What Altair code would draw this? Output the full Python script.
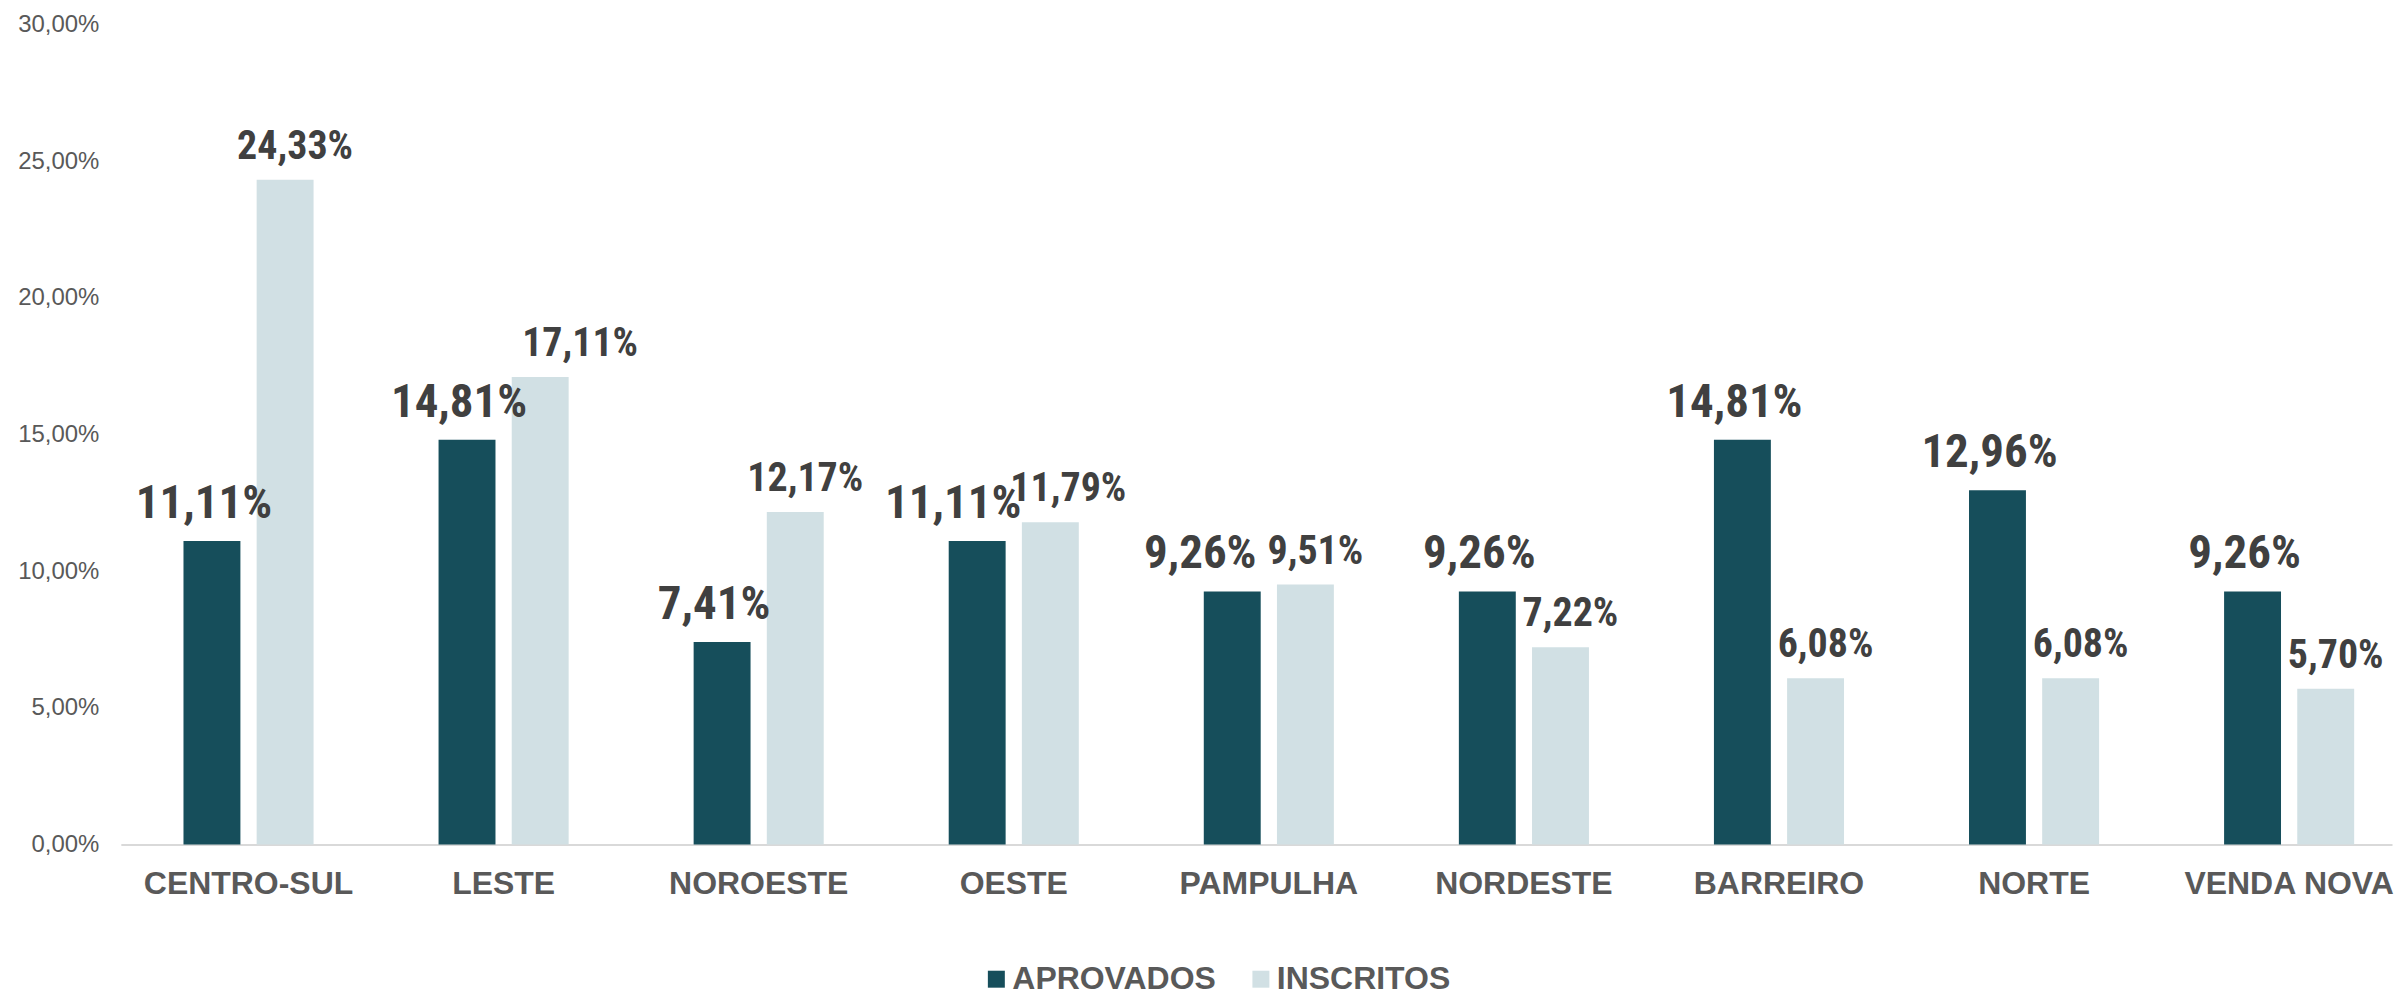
import altair as alt
import pandas as pd

regioes = ["CENTRO-SUL", "LESTE", "NOROESTE", "OESTE", "PAMPULHA",
           "NORDESTE", "BARREIRO", "NORTE", "VENDA NOVA"]
aprovados = [11.11, 14.81, 7.41, 11.11, 9.26, 9.26, 14.81, 12.96, 9.26]
inscritos = [24.33, 17.11, 12.17, 11.79, 9.51, 7.22, 6.08, 6.08, 5.70]
series = ["APROVADOS", "INSCRITOS"]
cores = ["#164E5B", "#D1E0E4"]
y_ticks = [0, 0.05, 0.10, 0.15, 0.20, 0.25, 0.30]

rows = []
for r, a, i in zip(regioes, aprovados, inscritos):
    rows.append({"regiao": r, "serie": "APROVADOS", "valor": a / 100})
    rows.append({"regiao": r, "serie": "INSCRITOS", "valor": i / 100})
df = pd.DataFrame(rows)

FONT = "Liberation Sans, Arial, sans-serif"
NARROW = "Roboto Condensed, Liberation Sans Narrow, DejaVu Sans Condensed, Roboto, sans-serif"

x_enc = alt.X("regiao:N", sort=regioes, title=None,
              scale=alt.Scale(paddingInner=0.49, paddingOuter=0.197, align=0.6236, round=False),
              axis=alt.Axis(labelAngle=0, labelFontSize=32, labelFontWeight="bold",
                            labelFont=FONT, labelColor="#595959", ticks=False, labelLimit=0,
                            domainColor="#D9D9D9", domainWidth=2, labelPadding=24))
xo_enc = alt.XOffset("serie:N", sort=series,
                     scale=alt.Scale(paddingInner=0.222, paddingOuter=0, round=False))
y_enc = alt.Y("valor:Q", title=None,
              scale=alt.Scale(domain=[0, 0.30], nice=False, zero=True),
              axis=alt.Axis(values=y_ticks, grid=False, domain=False, ticks=False,
                            labelFontSize=24, labelFont=FONT, labelColor="#595959",
                            labelPadding=22,
                            labelExpr="replace(format(datum.value, '.2%'), '.', ',')"))

base = alt.Chart(df)

bars = base.mark_bar().encode(
    x=x_enc, xOffset=xo_enc, y=y_enc,
    color=alt.Color("serie:N", sort=series, title=None,
                    scale=alt.Scale(domain=series, range=cores),
                    legend=alt.Legend(orient="none", legendX=861, legendY=940,
                                      direction="horizontal",
                                      symbolType="square", symbolSize=289,
                                      symbolStrokeWidth=0, labelLimit=0,
                                      labelFontSize=32, labelFontWeight="bold",
                                      labelFont=FONT, labelColor="#595959",
                                      labelOffset=0, columnPadding=29)),
)

# label styling per series: (font size, dx, dy)
label_style = {"APROVADOS": (47, -8, -23), "INSCRITOS": (40, 10, -21)}
# extra horizontal nudges where labels would collide
label_nudge = {("APROVADOS", "PAMPULHA"): -24, ("APROVADOS", "OESTE"): -16,
               ("INSCRITOS", "OESTE"): 8, ("INSCRITOS", "LESTE"): 30}

layers = [bars]
for s in series:
    size, dx, dy = label_style[s]
    nudged = [r for (ss, r) in label_nudge if ss == s]
    cond = f"datum.serie == '{s}'"
    if nudged:
        cond += " && indexof(" + str(nudged) + ", datum.regiao) < 0"
    groups = [(cond, dx)]
    for (ss, r), n in label_nudge.items():
        if ss == s:
            groups.append((f"datum.serie == '{s}' && datum.regiao == '{r}'", dx + n))
    for c, d in groups:
        layers.append(
            base.transform_filter(c).transform_calculate(
                lab="replace(format(datum.valor, '.2%'), '.', ',')"
            ).mark_text(font=NARROW, fontWeight="bold", fontSize=size, color="#404040",
                        baseline="alphabetic", dx=d, dy=dy).encode(
                x=alt.X("regiao:N", sort=regioes), xOffset=alt.XOffset("serie:N", sort=series),
                y="valor:Q", text="lab:N")
        )

chart = alt.layer(*layers).properties(
    width=2275, height=821, background="white",
    padding={"left": 9, "top": 4, "right": 0, "bottom": 0},
).configure_view(stroke=None)

chart.save("out.html", embed_options={"renderer": "svg", "actions": False})
